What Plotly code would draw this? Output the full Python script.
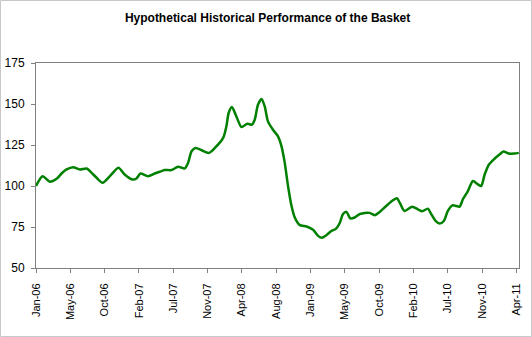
import plotly.graph_objects as go

dates = [
    "2006-01-01", "2006-01-27", "2006-02-25", "2006-03-24", "2006-04-13", "2006-05-03",
    "2006-05-29", "2006-06-25", "2006-07-22", "2006-08-11", "2006-08-31", "2006-09-24",
    "2006-10-23", "2006-11-26", "2006-12-21", "2007-01-20", "2007-02-06", "2007-02-22",
    "2007-03-24", "2007-04-20", "2007-05-10", "2007-05-30", "2007-06-26", "2007-07-22",
    "2007-08-18", "2007-08-31", "2007-09-14", "2007-09-30", "2007-10-24", "2007-11-22",
    "2007-12-16", "2008-01-18", "2008-01-31", "2008-02-09", "2008-02-22", "2008-03-11",
    "2008-03-31", "2008-04-24", "2008-05-12", "2008-05-23", "2008-06-05", "2008-06-19",
    "2008-07-02", "2008-07-15", "2008-08-04", "2008-08-24", "2008-09-07", "2008-09-20",
    "2008-10-03", "2008-10-17", "2008-10-30", "2008-11-18", "2008-12-16", "2009-01-11",
    "2009-01-31", "2009-02-15", "2009-03-05", "2009-03-25", "2009-04-11", "2009-04-27",
    "2009-05-10", "2009-05-24", "2009-06-09", "2009-06-26", "2009-07-16", "2009-08-05",
    "2009-08-25", "2009-09-14", "2009-10-04", "2009-10-30", "2009-11-26", "2009-12-12",
    "2009-12-24", "2010-01-11", "2010-02-11", "2010-03-05", "2010-03-23", "2010-04-14",
    "2010-04-28", "2010-05-15", "2010-05-31", "2010-06-17", "2010-07-03", "2010-07-21",
    "2010-08-06", "2010-08-19", "2010-09-01", "2010-09-21", "2010-10-11", "2010-10-31",
    "2010-11-13", "2010-11-27", "2010-12-14", "2011-01-05", "2011-01-25", "2011-02-10",
    "2011-03-03", "2011-03-26", "2011-04-12",
]

basket = [
    100.0, 106.0, 102.6, 104.4, 107.6, 110.1,
    111.5, 110.1, 110.7, 108.0, 105.0, 102.0,
    106.0, 111.1, 107.0, 104.0, 104.6, 107.6,
    106.0, 107.6, 108.7, 109.7, 109.7, 111.7,
    110.7, 114.1, 121.2, 123.2, 121.8, 120.2,
    123.2, 129.3, 136.4, 144.5, 148.1, 142.4,
    136.0, 138.0, 137.4, 140.4, 149.5, 153.0,
    148.5, 139.4, 134.3, 130.3, 124.2, 114.1,
    100.0, 87.8, 80.8, 76.3, 75.3, 73.3,
    69.6, 68.4, 70.0, 72.6, 73.7, 77.3,
    82.8, 84.2, 80.2, 80.8, 82.8, 83.6,
    83.6, 82.2, 84.2, 87.8, 91.3, 92.5,
    89.5, 84.8, 87.4, 85.8, 84.6, 86.2,
    82.8, 78.7, 77.1, 78.7, 84.8, 88.2,
    87.8, 87.4, 91.9, 96.9, 103.0, 101.0,
    100.0, 107.0, 113.1, 116.6, 119.2, 121.0,
    119.8, 119.8, 120.2,
]

title_text = "Hypothetical Historical Performance of the Basket"
y_ticks = [50, 75, 100, 125, 150, 175]

W, H = 532, 337
ML, MR, MT, MB = 36, 13, 63, 69
pw, ph = W - ML - MR, H - MT - MB

fig = go.Figure()
fig.add_trace(go.Scatter(
    x=dates, y=basket, mode="lines",
    line=dict(color="#008000", width=2.5, shape="spline", smoothing=0.7),
    hoverinfo="skip", showlegend=False,
))

fig.update_layout(
    width=W, height=H,
    margin=dict(l=ML, r=MR, t=MT, b=MB, pad=0, autoexpand=False),
    paper_bgcolor="white", plot_bgcolor="white",
    font=dict(family="Liberation Sans, Arial, sans-serif", color="black", size=12),
    title=dict(text="<b>" + title_text + "</b>", x=0.503, xanchor="center",
               y=1 - 18 / H, yanchor="middle", font=dict(size=12)),
    showlegend=False,
)

fig.update_xaxes(
    type="date", range=["2006-01-01", "2011-04-13"],
    tick0="2006-01-01", dtick=137 * 86400000, tickformat="%b-%y",
    tickangle=-90, ticks="outside", ticklen=4, tickcolor="#808080",
    ticklabelstandoff=6, automargin=False,
    showline=True, linecolor="#808080", linewidth=1, mirror=True,
    showgrid=False, zeroline=False,
    tickfont=dict(size=11),
)
fig.update_yaxes(
    range=[50, 175], tickvals=y_ticks,
    ticks="outside", ticklen=4, tickcolor="#808080",
    ticklabelstandoff=4, automargin=False,
    showline=True, linecolor="#808080", linewidth=1, mirror=True,
    showgrid=False, zeroline=False,
    tickfont=dict(size=12),
)

# outer chart border
fig.add_shape(type="rect", xref="paper", yref="paper",
              x0=(0.5 - ML) / pw, x1=1 + (MR - 0.5) / pw,
              y0=(0.5 - MB) / ph, y1=1 + (MT - 0.5) / ph,
              line=dict(color="#c8c8c8", width=1), fillcolor="rgba(0,0,0,0)", layer="below")

fig.write_html("out.html")
